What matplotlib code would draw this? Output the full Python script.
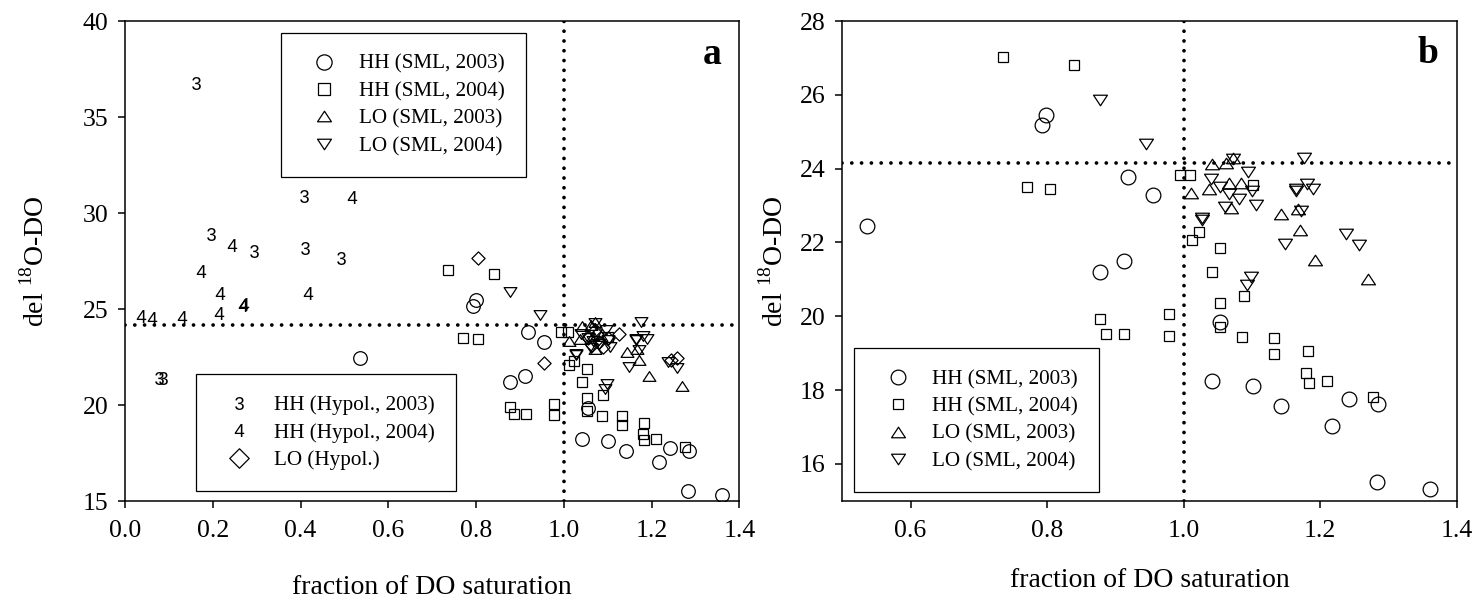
import matplotlib.pyplot as plt
from matplotlib.lines import Line2D
from matplotlib.path import Path

plt.rcParams['font.family'] = 'Liberation Serif'
plt.rcParams['mathtext.fontset'] = 'custom'
plt.rcParams['mathtext.rm'] = 'Liberation Serif'
plt.rcParams['mathtext.sf'] = 'Liberation Sans'

# HH surface mixed layer, 2003 (circles)
hh03_x = [0.536, 0.792, 0.799, 0.877, 0.912, 0.918, 0.955, 1.054, 1.041, 1.101,
          1.142, 1.217, 1.242, 1.285, 1.283, 1.361]
hh03_y = [22.45, 25.18, 25.45, 21.19, 21.50, 23.78, 23.29, 19.84, 18.24, 18.11,
          17.58, 17.03, 17.76, 17.62, 15.52, 15.31]

# HH surface mixed layer, 2004 (squares)
hh04_x = [0.735, 0.840, 0.771, 0.805, 0.994, 1.009, 1.101, 1.023, 1.012, 1.053,
          1.041, 1.053, 1.089, 1.053, 0.978, 0.978, 0.877, 0.887, 0.913, 1.086,
          1.133, 1.132, 1.182, 1.180, 1.183, 1.210, 1.277]
hh04_y = [27.02, 26.80, 23.51, 23.46, 23.82, 23.82, 23.55, 22.28, 22.06, 21.85,
          21.19, 20.36, 20.54, 19.70, 20.06, 19.47, 19.92, 19.51, 19.52, 19.43,
          19.42, 18.97, 19.05, 18.47, 18.20, 18.24, 17.82]

# LO surface mixed layer, 2003 (up triangles)
lo03_x = [1.011, 1.037, 1.042, 1.062, 1.066, 1.072, 1.084, 1.070, 1.143, 1.167,
          1.171, 1.193, 1.270]
lo03_y = [23.35, 23.44, 24.12, 24.16, 23.60, 24.30, 23.60, 22.93, 22.77, 22.90,
          22.33, 21.53, 21.00]

# LO surface mixed layer, 2004 (down triangles)
lo04_x = [0.878, 0.945, 1.177, 1.095, 1.072, 1.040, 1.054, 1.067, 1.100, 1.081,
          1.106, 1.061, 1.027, 1.027, 1.164, 1.164, 1.181, 1.189, 1.172, 1.148,
          1.238, 1.257, 1.099, 1.093]
lo04_y = [25.86, 24.68, 24.30, 23.92, 24.25, 23.71, 23.49, 23.31, 23.40, 23.17,
          23.02, 22.96, 22.66, 22.60, 23.44, 23.40, 23.58, 23.46, 22.84, 21.96,
          22.24, 21.94, 21.07, 20.85]

# LO hypolimnion (diamonds)
lohyp_x = [0.805, 0.955, 1.125, 1.245, 1.258, 1.055, 1.065, 1.075, 1.080, 1.090,
           1.100, 1.070]
lohyp_y = [27.64, 22.17, 23.70, 22.35, 22.45, 23.50, 23.10, 23.70, 23.30, 23.00,
           23.50, 23.90]

# HH hypolimnion, 2003 ("3") and 2004 ("4")
hhhyp03_x = [0.161, 0.408, 0.195, 0.295, 0.411, 0.492, 0.078, 0.087]
hhhyp03_y = [36.79, 30.89, 28.91, 28.04, 28.19, 27.67, 21.39, 21.39]
hhhyp04_x = [0.517, 0.245, 0.174, 0.216, 0.418, 0.270, 0.272, 0.214, 0.036, 0.062, 0.129]
hhhyp04_y = [30.85, 28.33, 27.00, 25.82, 25.82, 25.21, 25.28, 24.78, 24.65, 24.55, 24.57]

sml_labels = ['HH (SML, 2003)', 'HH (SML, 2004)', 'LO (SML, 2003)', 'LO (SML, 2004)']
hyp_labels = ['HH (Hypol., 2003)', 'HH (Hypol., 2004)', 'LO (Hypol.)']
ref_x = 1.0
ref_y = 24.15

# flattened triangles and diamond like the original symbols
tri_up = Path([(-1, -0.76), (1, -0.76), (0, 0.76), (0, 0)], closed=True)
tri_dn = Path([(-1, 0.76), (1, 0.76), (0, -0.76), (0, 0)], closed=True)
diamond = Path([(0, 1), (1, 0), (0, -1), (-1, 0), (0, 0)], closed=True)
three = r'$\mathsf{3}$'
four = r'$\mathsf{4}$'

TICK_FS = 18.5
LABEL_FS = 20
LEG_FS = 15.2
MEW = 0.9
DIGIT_MS = 9.3


def open_marker(ax, x, y, marker, ms):
    ax.plot(x, y, linestyle='none', marker=marker, markersize=ms,
            markerfacecolor='none', markeredgecolor='black', markeredgewidth=MEW)


def ref_lines(ax):
    kw = dict(color='black', linewidth=2.7, dashes=(0.01, 2.6),
              dash_capstyle='round', zorder=1)
    ax.axhline(ref_y, **kw)
    ax.axvline(ref_x, **kw)


def style_axes(ax):
    for s in ax.spines.values():
        s.set_linewidth(1.1)
    ax.tick_params(direction='out', length=5, width=1.1, labelsize=TICK_FS)
    ax.tick_params(axis='x', pad=9)
    ax.tick_params(axis='y', pad=7)


def make_legend(ax, handles, labels, anchor):
    leg = ax.legend(handles, labels, loc='upper left', bbox_to_anchor=anchor,
                    borderaxespad=0, frameon=True, fancybox=False, framealpha=1,
                    edgecolor='black', fontsize=LEG_FS, borderpad=1.0,
                    handlelength=2.1, handletextpad=0.6, labelspacing=0.36)
    leg.get_frame().set_linewidth(0.9)
    return leg


def proxy(marker, ms, filled=False):
    if filled:
        return Line2D([], [], linestyle='none', marker=marker, markersize=ms,
                      markerfacecolor='black', markeredgewidth=0)
    return Line2D([], [], linestyle='none', marker=marker, markersize=ms,
                  markerfacecolor='none', markeredgecolor='black', markeredgewidth=MEW)


fig = plt.figure(figsize=(14.79, 6.07), dpi=100)
ax_a = fig.add_axes([0.0845, 0.1746, 0.4154, 0.7908])
ax_b = fig.add_axes([0.5695, 0.1751, 0.4154, 0.7903])

# ---- panel a ----
ref_lines(ax_a)
open_marker(ax_a, hh03_x, hh03_y, 'o', 9.8)
open_marker(ax_a, hh04_x, hh04_y, 's', 7.2)
open_marker(ax_a, lo03_x, lo03_y, tri_up, 9.2)
open_marker(ax_a, lo04_x, lo04_y, tri_dn, 9.2)
open_marker(ax_a, lohyp_x, lohyp_y, diamond, 9.5)
ax_a.plot(hhhyp03_x, hhhyp03_y, linestyle='none', marker=three, markersize=DIGIT_MS,
          markerfacecolor='black', markeredgewidth=0)
ax_a.plot(hhhyp04_x, hhhyp04_y, linestyle='none', marker=four, markersize=DIGIT_MS,
          markerfacecolor='black', markeredgewidth=0)

ax_a.set_xlim(0, 1.4)
ax_a.set_ylim(15, 40)
ax_a.set_xticks([0.0, 0.2, 0.4, 0.6, 0.8, 1.0, 1.2, 1.4])
ax_a.set_xticklabels(['0.0', '0.2', '0.4', '0.6', '0.8', '1.0', '1.2', '1.4'])
ax_a.set_yticks([15, 20, 25, 30, 35, 40])
style_axes(ax_a)
ax_a.set_xlabel('fraction of DO saturation', fontsize=LABEL_FS)
ax_a.set_ylabel(r'del $^{18}$O-DO', fontsize=LABEL_FS)
ax_a.xaxis.set_label_coords(0.5, -0.155)
ax_a.yaxis.set_label_coords(-0.122, 0.5)
ax_a.text(0.955, 0.91, 'a', transform=ax_a.transAxes, fontsize=27,
          fontweight='bold', ha='center', va='baseline')

leg1 = make_legend(ax_a, [proxy('o', 11.0), proxy('s', 8.0), proxy(tri_up, 10.0),
                          proxy(tri_dn, 10.0)], sml_labels, (0.2535, 0.975))
ax_a.add_artist(leg1)
make_legend(ax_a, [proxy(three, DIGIT_MS, True), proxy(four, DIGIT_MS, True),
                   proxy(diamond, 14.0)], hyp_labels, (0.115, 0.264))

# ---- panel b ----
ref_lines(ax_b)
open_marker(ax_b, hh03_x, hh03_y, 'o', 10.6)
open_marker(ax_b, hh04_x, hh04_y, 's', 7.7)
open_marker(ax_b, lo03_x, lo03_y, tri_up, 10.0)
open_marker(ax_b, lo04_x, lo04_y, tri_dn, 10.0)

ax_b.set_xlim(0.5, 1.4)
ax_b.set_ylim(15, 28)
ax_b.set_xticks([0.6, 0.8, 1.0, 1.2, 1.4])
ax_b.set_xticklabels(['0.6', '0.8', '1.0', '1.2', '1.4'])
ax_b.set_yticks([16, 18, 20, 22, 24, 26, 28])
style_axes(ax_b)
ax_b.set_xlabel('fraction of DO saturation', fontsize=LABEL_FS)
ax_b.set_ylabel(r'del $^{18}$O-DO', fontsize=LABEL_FS)
ax_b.xaxis.set_label_coords(0.5, -0.14)
ax_b.yaxis.set_label_coords(-0.087, 0.5)
ax_b.text(0.953, 0.913, 'b', transform=ax_b.transAxes, fontsize=27,
          fontweight='bold', ha='center', va='baseline')

make_legend(ax_b, [proxy('o', 10.6), proxy('s', 7.7), proxy(tri_up, 10.0),
                   proxy(tri_dn, 10.0)], sml_labels, (0.0195, 0.3177))

fig.savefig('out.png', dpi=100)
